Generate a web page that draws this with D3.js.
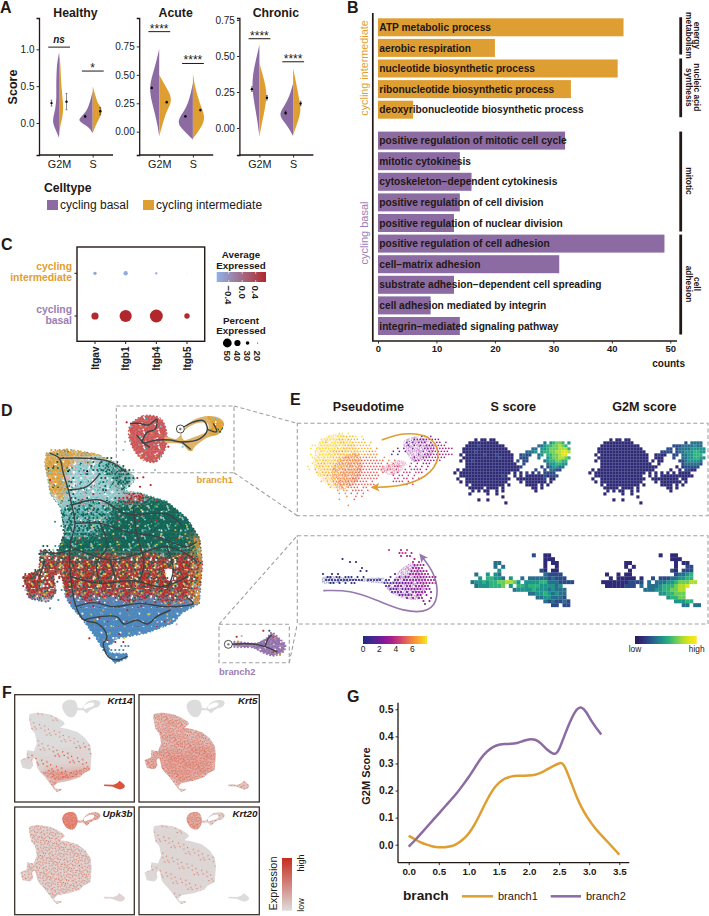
<!DOCTYPE html>
<html><head><meta charset="utf-8">
<style>html,body{margin:0;padding:0;background:#fff}svg{display:block}text{font-family:"Liberation Sans",Arial,sans-serif;fill:#231815}</style>
<script src="https://cdn.jsdelivr.net/npm/d3@7/dist/d3.min.js"></script>
</head><body><div id="chart"></div>
<script>
// ---------- shared colours ----------
const basalColor="#8C6BA3", interColor="#DF9E32", inkColor="#231815";

// ---------- panel A data ----------
const facetNames=["Healthy","Acute","Chronic"];
const phases=["G2M","S"];
const facetDomains=[[-0.434,1.425],[-0.205,1.0],[-0.1875,0.764]];
const facetTicks=[[0,0.5,1],[0,0.25,0.5,0.75],[0,0.25,0.5,0.75]];
const violinBasal=[
 [[[-0.2,0],[-0.1,3],[0,6.5],[0.1,5.5],[0.2,3.5],[0.35,2.5],[0.5,2.8],[0.7,2.5],[0.85,1.5],[0.95,0]],
  [[-0.14,0],[-0.05,4],[0.03,15],[0.08,12],[0.15,6.5],[0.25,3.5],[0.35,1.5],[0.43,0]]],
 [[[-0.04,0],[0.05,1.5],[0.15,4],[0.25,7],[0.35,9.6],[0.45,8.5],[0.55,5],[0.65,2],[0.73,0]],
  [[-0.07,0],[0,8],[0.07,15.5],[0.13,13],[0.22,6],[0.32,2.5],[0.43,0]]],
 [[[-0.06,0],[0.05,2],[0.15,4.5],[0.27,7.4],[0.38,6.5],[0.47,3.5],[0.58,0]],
  [[-0.055,0],[0.03,7],[0.09,15],[0.15,9],[0.22,3.5],[0.31,0]]]];
const violinInter=[
 [[[-0.2,0],[-0.05,1],[0.05,3],[0.18,4.5],[0.35,3.5],[0.55,2],[0.8,1.5],[0.97,0]],
  [[-0.14,0],[-0.03,3],[0.07,7],[0.18,10.5],[0.26,5],[0.36,3],[0.5,0]]],
 [[[-0.04,0],[0.05,3],[0.15,6],[0.22,10],[0.28,12.5],[0.35,10],[0.42,5],[0.5,0]],
  [[-0.06,0],[0.03,8],[0.12,12.5],[0.2,9],[0.3,5],[0.4,2],[0.51,0]]],
 [[[-0.06,0],[0.05,3],[0.15,6],[0.24,7.6],[0.33,5],[0.45,0]],
  [[-0.05,0],[0.03,4],[0.12,8.4],[0.2,6],[0.3,3.5],[0.415,0]]]];
const meanBasal=[[0.27,0.09],[0.385,0.135],[0.27,0.105]];
const seBasal=[[0.04,0.012],[0.008,0.006],[0.016,0.012]];
const meanInter=[[0.29,0.16],[0.26,0.19],[0.21,0.17]];
const seInter=[[0.11,0.05],[0.008,0.008],[0.016,0.016]];
const sigLabels=[["ns","*"],["****","****"],["****","****"]];
const sigValues=[[1.03,0.705],[0.88,0.6],[0.62,0.46]];

// ---------- panel B data ----------
const goInter=["ATP metabolic process","aerobic respiration","nucleotide biosynthetic process","ribonucleotide biosynthetic process","deoxyribonucleotide biosynthetic process"];
const goInterCounts=[42,20,41,33,6];
const goBasal=["positive regulation of mitotic cell cycle","mitotic cytokinesis","cytoskeleton\u2212dependent cytokinesis","positive regulation of cell division","positive regulation of nuclear division","positive regulation of cell adhesion","cell\u2212matrix adhesion","substrate adhesion\u2212dependent cell spreading","cell adhesion mediated by integrin","integrin\u2212mediated signaling pathway"];
const goBasalCounts=[32,14,16,14,13,49,31,13,9,14];
const countTicks=[0,10,20,30,40,50];
const goBrackets=[[["energy","metabolism"],-0.1,1.76],[["nucleic acid","synthesis"],1.9,4.8],[["mitotic"],5.45,10.35],[["cell","adhesion"],10.45,15.35]];

// ---------- panel C data ----------
const integrins=["Itgav","Itgb1","Itgb4","Itgb5"];
const dotGroups=["cycling intermediate","cycling basal"];
const pctInter=[29,33,25,20], pctBasal=[44,63,66,37];
const avgInter=[-0.62,-0.7,-0.55,-0.2], avgBasal=[0.7,0.72,0.72,0.7];
const avgTicks=[-0.4,0,0.4];
const pctLegend=[50,40,30,20];

// ---------- panel D data (coordinates are UMAP units) ----------
const umapOutline=[[140,190],[200,178],[290,193],[345,218],[395,250],[405,270],[370,302],[420,310],[500,335],[560,385],[598,445],[606,520],[597,640],[545,668],[520,698],[440,728],[350,745],[325,770],[330,790],[383,792],[380,804],[345,818],[320,790],[290,745],[250,690],[215,650],[198,622],[190,575],[180,545],[160,558],[168,605],[150,632],[135,635],[88,625],[70,560],[118,540],[122,480],[172,490],[195,425],[182,350],[152,312],[145,270],[135,220]];
// colour bands, each with a fill and a speckle mix of its cells
const umapBands=[
 {c:"#B5D8DB",m:"cpcwcgcpctwccpcgcwccpctcgcwpcctccwgpccwcgcpwccctcpgcwctcpcc",p:[[130,170],[410,170],[410,345],[130,345]]},
 {c:"#E5A642",m:"oooowoogooooccoooowoopooooogoooocooowoooooowooggoooooocooooo",p:[[130,180],[300,190],[262,208],[232,206],[205,226],[196,262],[206,290],[190,322],[150,320],[140,270],[130,220]]},
 {c:"#4E8F83",m:"gcgggcpggcgggcgtggcgpgggcggcgcggtgcgggcggcgggtgcgggcgcwgcgtg",p:[[290,205],[350,222],[405,260],[370,300],[330,285],[345,262],[305,250],[318,228]]},
 {c:"#226A5C",m:"gtgggcgggyggggcgtgggpgggcggggyggtggggcggrggggtgcggggcgwgggtg",p:[[180,360],[240,325],[320,340],[400,318],[620,320],[620,515],[560,490],[500,505],[440,484],[380,505],[320,488],[260,510],[210,495],[100,500],[170,470]]},
 {c:"#70B4B4",m:"cgcwcgtcpctgccpcgtgwccgctcgcwpgctccggpctwcgtcpcgcctgpgcwctcg",p:[[180,345],[300,320],[340,375],[290,425],[215,445],[185,420]]},
 {c:"#A85A50",m:"rgrwyrgrrgyrwgrrcrgrygwrgrrgrgypgrrwgrrygrgwrgrrgcryrgrwgryr",p:[[60,500],[100,500],[210,495],[260,510],[320,488],[380,505],[440,484],[500,505],[560,490],[620,515],[620,640],[570,625],[510,648],[450,625],[390,640],[330,620],[270,635],[190,618],[60,640]]},
 {c:"#538CBE",m:"bbbbwbbbbbrbbbbwbbbbbybbbbbbwbbbbbrbbbbbbbbbwbbbobbbbbbbwbbb",p:[[190,618],[270,635],[330,620],[390,640],[450,625],[510,648],[570,625],[620,640],[620,830],[190,830]]},
 {c:"#C9656A",m:"rrprrwrrrrcrrrgrrrrwrrprrrrrrrgrrrrwrrrrprrrrcrrrrwrrrrrgrrr",p:[[375,308],[435,308],[430,335],[380,330]]},
 {c:"#E5A642",m:"oooowoogooooccoooowoopooooogoooocooowoooooowooggoooooocooooo",p:[[578,440],[612,450],[612,650],[576,640],[592,600],[600,520]]}
];
const umapHoles=[[[338,770],[378,772],[376,788],[342,788]],[[497,538],[513,538],[518,570],[502,570]]];
const branch1Body=[[392,105],[430,78],[480,85],[498,120],[497,170],[468,215],[428,208],[398,172],[386,130]];
const branch1Arm=[[495,140],[530,146],[552,118],[580,90],[625,78],[660,85],[672,102],[655,132],[625,142],[590,165],[570,184],[545,162],[495,157]];
const branch1Tip=[[622,80],[655,86],[672,102],[656,132],[628,134],[636,105]];
const branch1Hole=[[545,132],[590,100],[624,102],[622,122],[580,142],[552,150]];
const branch2Body=[[770,760],[800,745],[815,728],[840,748],[856,765],[850,785],[820,797],[790,788],[760,773],[700,769],[700,757]];
const branch1Path=[[[390,100],[418,100],[445,105],[470,88],[465,118],[440,128],[428,158],[470,150],[510,150],[545,156],[600,146],[622,118],[610,92],[575,98],[550,112],[541,117]],[[428,158],[410,135]],[[428,158],[450,172]],[[622,118],[650,125],[640,100]],[[545,156],[572,178]]];
const branch2Path=[[[685,763],[760,762],[795,770],[832,786]],[[795,770],[805,745],[815,735]]];
const umapPaths=[
 [[150,190],[178,205],[190,250],[205,300],[215,345],[225,400],[210,470],[212,560],[228,650],[252,690],[292,700],[315,722],[320,745],[310,760],[325,800],[355,810],[382,798]],
 [[178,205],[260,205],[330,215],[385,252]],[[205,300],[260,290],[300,250]],[[215,345],[300,330],[380,372],[500,372],[545,405]],
 [[225,400],[300,400],[380,425],[470,440],[560,470],[590,455]],[[210,470],[262,490],[330,510],[420,490],[500,470],[572,500],[592,520]],
 [[212,560],[300,580],[400,572],[482,590],[565,560]],[[228,650],[280,638],[340,650],[420,640],[500,650],[580,640],[560,622]],
 [[252,690],[300,680],[350,680],[372,702],[410,690],[442,702],[470,680],[512,660]],[[400,350],[410,430],[432,520],[420,570]],
 [[300,400],[322,470],[290,520],[300,580]],[[122,485],[170,490],[212,480]],[[135,512],[118,560]],[[330,510],[345,560]],[[500,470],[520,540],[500,600]]
];
// Dominant colour of each small cell of the big UMAP: one row per line
const umapCells=[
"       oooooo",
"      oogooooooooo",
"      oooogoocoooggoogg",
"      oogoooopcoogpgcgcg",
"      ooocoooccpcgcgtgcgcg",
"       oooogpcccpgggcgtcggg",
"       ooopcccpcgcpgcgtgggg",
"       oocppgcwccpcggcggcgggr",
"       oooccgcpcccpcgcccggg",
"       oopcgwccpcpcpgccpwcg",
"       oooccgpcwcpccgpc",
"        oopcgccpcrpcwcc   rr r",
"         oocggcpgccpctcgrrrrprg g",
"         occgcgccgcpcgtcgrrrgcgtgg",
"          cgcpgtcgpcgcgtgcgpgggcgtg",
"          ggcgcgpggcgtgcgggcgyggtggg",
"          gcggtgggcggtggpgggtgggcgggg",
"          cgggcggggyggggtgggcgggggcggg",
"          ggggtggcggggggcggpgggggtggggg",
"         tggcggggygggtggggggpgcgggggtgggg",
"          gggtgggcgggggggcggggtgggcgggogg",
"          ggcgggggpgggyggggtggggcgygggggo",
"          gcggyggggcgggrggggpggggtgcgggogo",
"          gggrggggtggggygggcggggggyggtgggo",
"     gg ttgggcgggpggggggrgggtggggcgggggcgoo",
"     ggcggtgggygggrgggygggcggrggtgggpggrggo",
"    ggw cgrgggcrgggrgggyggrggggygrgcgggrgro",
"    gpw  ggrgyrgggyrgrgcggrgygggrggrgygrgro",
"     gt   rggrgrygggrgrrgygrgrgygrrgcgwrgro",
"     gg   rrgryggrgrgygrrgrgyrgrgryrgwwrrgo",
"   ggw    yrgrgrrgyrgrrgrygrgrrgyrgrwwgrro",
"rrggww    rgrryrrgrgyrgrrgyrrgrgrrgywwrgro",
"rrgrrww  rrgrgrrgryrrgrgrrgrygrrgrrgrwwrro",
"rygrrpw   rgrryrgrrgrrgyrrgrrgyrrgrgrwrrgo",
"rrrrgww   yrgrrgrrgyrrgrgyrgrrgrrbrgrrgrro",
"prrrrbw    rbrrgrybrrgrrbrgrybrrbrgrrbrrro",
" rbbb b    rbbrbrbbrbbrrbbrbbrbbrbbrbrbbro",
"  bbbbb     bbbrbbbbobbbrbbbbbrbbbbbbrbbo",
"             bbbbbbrbbbbbbbybbbbbrbbbbboo",
"             bbbbrbbbbbbbbbbbrbbbbbbbbo",
"              bbbbbbobbbbbrbbbbbbbbbb",
"               bbbbbbbbbbbbbbbbybbbb",
"               bbbbrbbbbbbbbbbbbbb  p",
"                bbbbbbbbbbbbbbbb p",
"                 bbbbbybbbbbbb",
"                  bbbbbbbb b",
"                  bb ybbr",
"                  bb  w w",
"                   bbw r r",
"                   bbwwwbb",
"                    bbbbbb",
"                     bbb"
];
const umapCellColors={o:"#E29C2C",g:"#0E6454",c:"#7EC8CF",t:"#2B9E90",r:"#BE2329",y:"#D8CB3C",p:"#DBA6B4",b:"#4A86BE",w:"#FFFFFF",d:"#C84F52",u:"#8F6BA8"};
// scattered cells around the bodies: [x, y, colour key]
const umapStrays=[[380,275,"g"],[430,262,"r"],[452,285,"r"],[420,290,"r"],[400,240,"c"],[465,240,"c"],[375,155,"c"],[380,97,"r"],[370,180,"c"],[505,170,"r"],[530,703,"p"],[505,697,"p"],[268,745,"r"],[372,745,"y"],[385,768,"b"],[150,655,"b"],[175,630,"b"],[165,395,"t"],[150,270,"r"],
 [178,560,"r"],[185,600,"b"],[172,575,"g"],[165,590,"p"],
 [710,740,"r"],[725,738,"p"],[790,722,"r"],[808,722,"g"],[840,795,"o"],[715,755,"o"],[455,130,"o"],[420,140,"c"],[548,170,"c"],[575,180,"o"],[660,125,"g"]];
const branchMixD="ddddwddddcddddtdddddwddddoddddddwdddddddddcdddwddddddddodddwd";
const branchMixU="uuuuwuuuuuuuuuuuuwuuuuruuuuuuuuuuuwuuuuuuuuuuouuuuuwuuuuuuuu";
const branchMixO="oooowoogooooccoooowoopooooogoooocooowoooooowooggoooooocooooo";

// ---------- panel E data ----------
const plasmaStops=["#26277F","#3B2A8C","#5C1F96","#861A98","#A81E8C","#C93A78","#E5605A","#F48A3C","#F8B52E","#F5E626"];
const viridisStops=["#2A1B5C","#2F2A76","#2C4A88","#26708E","#1F948C","#2EB37C","#6CCD5A","#B0DD2F","#E6E419","#FDE725"];
const pseudoTicks=[0,2,4,6];
const pseudoTop=[
"            99 9",
"        9  9988889 9                   23 3",
"      9 99998898888 8                233333333",
"     998 999889988888 8           2 2 333 3 33 4",
"   99 99999999888888888            2 2 3 3343444",
"  9 9999999898888888888 7      1 2  2   3344444444",
"    9 9999888788888888778     1 2 2     3 3444444",
"  9  99999888888887877777    1 1      3 3344444444",
"   9 9 999888877787776777  7         3  33444444",
"    99889988877777766666676 7 6      34 344444",
"   9 8889888777777766666666 6 6     5 4 444",
" 9  98898888887777766666666 6 65   4 4 4 4",
"  9 8 988878877777666666666 66 5  5 5444 4",
"    8 8888887777766666666 6  6 5 555 554",
"     9 8788887777766666666    5 55 5 5",
"       8 8877777666666666     55 55 5 5",
"      8 8 777776766666 6      5555 5",
"        8 8 777666666666         55 5",
"         8 8 7 7666 66 6",
"           7 77 6666 6",
"            7 7 6 6 6",
"              7  6 6",
"            7    6",
"                 ",
"               7"
];
const pseudoBottom=[
"                       5   4 5",
"                          455 4",
"                           4 44",
"       0                       4",
"          0 0                  4 4",
"                               3443",
"              1                3434",
"             0 0              344434",
" 0  0 0                  1    3434444",
"  00 00 000 0 0        1  2 23 34343444",
"  0000000000000 11111 11 22 22333343444",
"   00 0 0 00         1111222233 3344344",
"                      12 222 33 33443",
"                       222 2223333 33",
"                        2222 2 33333 3",
"                          22223 33 3",
"                             3 3 33  3",
"                                  3 3",
"                                   3"
];
// denser areas of the pseudotime scatter: [shape, colour level]
const pseudoFills=[
 [[[95,150],[150,132],[195,165],[215,215],[205,270],[150,300],[95,270],[70,220]],8],
 [[[140,215],[200,190],[218,225],[200,275],[150,298],[125,260]],6],
 [[[340,155],[385,140],[432,165],[425,195],[370,215],[350,190]],3],
 [[[270,240],[330,210],[350,222],[310,255]],5],
 [[[330,540],[370,520],[410,575],[390,625],[340,625],[290,595],[310,570]],3],
 [[[98,562],[200,566],[290,566],[290,578],[200,574],[98,578]],0]
];
const sScoreTop=[
"       1 11 11",
"     1111111111               3 45665 4",
"    1111211111111           3345566765",
"   111111111111111        33 4456667775",
"   1111211111111111     3334 4556677887",
"  1 1111112111211111  2322  34 5566788",
"   11111111111121111  222   3  45667765",
"  1 1121111111111111 2 22     34556655",
"    11111111111111111  2       3445544",
"    1111111111111111112      2 234433",
" 1 1111111111111111111     2  2 3322",
"1 11111111111111111 1 1 2 1 2 2222",
"  1111111111111121  1 1 11111121222",
" 1  111111111111111  1111111112 11",
"  1 11111111111111    1 1111111 1",
"    1 11111111111 1     1111 1 1",
"     11111 1111 1         11 1",
"      1 1 11  1 1          1",
"     1     1  1",
"                1",
"        1  1",
"                 1"
];
const g2mScoreTop=[
"       1 11 11",
"     1111111111                 2 3333",
"    1111111111111           2223333433",
"   111111111111111        22 2333344444",
"   1111111111111111     2222 2334445544",
"  1 1111111111111111  1211  22 3344555",
"   11111111111111111  111   2  33445544",
"  1 1111111111111111 1 11     22344443",
"    11111111111111111  1       2333332",
"    1111111111111111111      1 122222",
" 1 1111111111111111111     1  1 2211",
"1 11111111111111111 1 1 1 1 1 1111",
"  1111111111111111  1 1 11111111111",
" 1  111111111111111  111111111 11",
"  1 11111111111111    1 1111111 1",
"    1 11111111111 1     1111 1 1",
"     11111 1111 1         11 1",
"      1 1 11  1 1          1",
"     1     1  1",
"                1",
"        1  1",
"                 1"
];
const sScoreBottom=[
"                 2  11",
"                    111",
"       33           1 11",
"       3 3          1  1",
"        4          21 11",
"  3  4 43           32222",
"   4 55443 4  3 3333323222",
" 3445455667764 4444553332222",
"  34445556 4 554555444434",
"            34444544434333",
"                3344543433",
"                  33443332",
"                    3232232",
"                      22 22"
];
const g2mScoreBottom=[
"                1  11",
"                   111",
"       11           1 11",
"       1 1          1  22",
"        1          21 222",
"  1  1 11           23345",
"   1 11111 1  2 222334455",
" 11111112222 3 33344566677",
"  11111222 3 33345556778",
"            33344556677",
"                4455666",
"                  45566",
"                    44455",
"                      33 33"
];
const arrowTop=[[275,150],[340,127],[420,135],[453,185],[430,250],[345,290],[250,292]];
const arrowBottom=[[100,602],[180,600],[260,630],[340,665],[420,668],[447,620],[435,550],[393,497]];

// ---------- panel F data ----------
const markerGenes=["Krt14","Krt5","Upk3b","Krt20"];
const speckleTile=[[3,2],[11,1],[18,3],[22,8],[7,6],[14,7],[1,10],[19,12],[10,12],[5,15],[15,16],[22,17],[2,20],[9,20],[17,21],[12,23],
[6,1],[15,3],[21,1],[2,6],[10,4],[18,7],[4,10],[13,10],[23,12],[8,9],[16,13],[0,14],[11,16],[19,16],[3,18],[7,19],[14,20],[21,21],[5,23],[18,23],
[8,2],[13,5],[20,5],[1,3],[5,8],[11,8],[16,9],[21,10],[2,13],[7,12],[12,14],[18,14],[23,15],[5,17],[9,17],[16,18],[20,19],[1,22],[11,21],[15,23],[23,23],[8,22],[3,15],[13,18]];
const speckleLevels={low:8,mid:20,high:40,full:60};
const lowerBand=[[215,655],[300,650],[400,655],[500,640],[585,620],[592,640],[520,690],[440,712],[340,725],[290,705],[250,680]];
const lowerHalf=[[70,520],[250,500],[420,470],[606,440],[606,640],[520,698],[350,745],[250,690],[198,622],[88,625]];
const rightHalf=[[300,340],[520,350],[606,480],[606,640],[450,700],[250,640],[215,500]];
const loopPart=[[290,730],[350,740],[325,770],[332,788],[383,790],[380,804],[345,818],[318,790]];
// each layer: shape, speckle level, soft wash strength
const krt14Layers=[[umapOutline,"low",0],[lowerHalf,"low",.05],[lowerBand,"full",.5],[loopPart,"full",.3]];
const krt5Layers=[[umapOutline,"full",.22],[lowerHalf,"full",.16],[branch2Body,"high",.15]];
const upk3bLayers=[[umapOutline,"high",.06],[branch1Body,"full",.55],[branch1Arm,"high",.3],[branch2Body,"low",.05]];
const krt20Layers=[[umapOutline,"low",.04],[branch1Body,"full",.3],[branch1Arm,"mid",.1]];

// ---------- panel G data ----------
const branch1Curve=[[0,.033],[.1,.02],[.2,.008],[.3,0],[.4,-.007],[.5,-.01],[.6,-.01],[.7,-.007],[.8,.002],[.9,.018],[1,.04],[1.1,.075],[1.2,.12],[1.3,.165],[1.4,.205],[1.5,.23],[1.6,.245],[1.7,.252],[1.8,.255],[2,.255],[2.1,.257],[2.2,.265],[2.3,.278],[2.4,.29],[2.5,.302],[2.55,.302],[2.6,.288],[2.7,.23],[2.8,.17],[2.9,.125],[3,.09],[3.1,.06],[3.2,.035],[3.3,.012],[3.4,-.012],[3.5,-.037]];
const branch2Curve=[[0,-.007],[.1,.015],[.2,.04],[.3,.065],[.4,.09],[.5,.115],[.6,.14],[.7,.165],[.8,.19],[.9,.22],[1,.25],[1.1,.285],[1.2,.32],[1.3,.345],[1.4,.362],[1.5,.37],[1.6,.372],[1.7,.372],[1.8,.375],[1.9,.383],[2,.39],[2.1,.39],[2.2,.375],[2.3,.35],[2.4,.335],[2.45,.335],[2.5,.35],[2.6,.41],[2.7,.465],[2.8,.505],[2.87,.51],[2.95,.492],[3.05,.45],[3.2,.407]];
const gXTicks=[0,.5,1,1.5,2,2.5,3,3.5], gYTicks=[0,.1,.2,.3,.4,.5];

// ---------- drawing ----------
const svg=d3.select("#chart").append("svg").attr("width",709).attr("height",916).attr("viewBox","0 0 709 916");
const defs=svg.append("defs");
function txt(g,x,y,s,o={}){
  const t=g.append("text").attr("x",x).attr("y",y).text(s)
    .attr("font-size",o.size||9).attr("font-weight",o.bold?"bold":"normal").attr("text-anchor",o.anchor||"start");
  if(o.fill)t.style("fill",o.fill);
  if(o.italic)t.attr("font-style","italic");
  if(o.rot!=null)t.attr("transform",`rotate(${o.rot} ${x} ${y})`);
  return t;
}
function styleAxis(g,sw){
  g.selectAll("path.domain").attr("stroke",inkColor).attr("stroke-width",sw||1.3);
  g.selectAll(".tick line").attr("stroke",inkColor).attr("stroke-width",.9);
}
[["A",0,13],["B",347,13],["C",1,249.5],["D",1,415.5],["E",290,404.5],["F",2,697.5],["G",347,702]].forEach(d=>txt(svg,d[1],d[2],d[0],{size:16,bold:true}));
defs.append("filter").attr("id","soft").attr("x","-20%").attr("y","-20%").attr("width","140%").attr("height","140%").append("feGaussianBlur").attr("stdDeviation",5);
defs.append("filter").attr("id","softF").attr("x","-30%").attr("y","-30%").attr("width","160%").attr("height","160%").append("feGaussianBlur").attr("stdDeviation",4);

// --- A
const gA=svg.append("g");
const facetX=d3.scaleBand().domain(facetNames).range([39,339]).paddingInner(0);
const phaseX=d3.scalePoint().domain(phases).range([20,53.7]);
const densityW=d3.scaleLinear().domain([0,15]).range([0,15]);
facetNames.forEach((name,fi)=>{
  const ox=facetX(name)+fi*0.2;
  const g=gA.append("g").attr("transform",`translate(${ox},0)`);
  const y=d3.scaleLinear().domain(facetDomains[fi]).range([155,18]);
  const axL=g.append("g").call(d3.axisLeft(y).tickValues(facetTicks[fi]).tickSize(2.5).tickPadding(2).tickFormat(d=>fi==0?d3.format(".1f")(d):d3.format(".2f")(d)));
  styleAxis(axL,1.3);axL.selectAll("text").attr("font-size",10);
  const xAx=g.append("g").attr("transform","translate(0,155)").call(d3.axisBottom(phaseX).tickSize(2.5).tickPadding(3));
  xAx.select("path.domain").attr("d","M0,0H74");styleAxis(xAx,1.3);xAx.selectAll("text").attr("font-size",10.8);
  txt(g,36.5,17,name,{size:12.3,bold:true,anchor:"middle"});
  phases.forEach((ph,pi)=>{
    const cx=phaseX(ph);
    const area=sign=>d3.area().curve(d3.curveBasis).y(d=>y(d[0])).x0(cx).x1(d=>cx+sign*densityW(d[1]));
    g.append("path").attr("d",area(-1)(violinBasal[fi][pi])).attr("fill",basalColor);
    g.append("path").attr("d",area(1)(violinInter[fi][pi])).attr("fill",interColor);
    [[meanBasal,seBasal,-7.5],[meanInter,seInter,7.5]].forEach(([m,s,dx])=>{
      const v=m[fi][pi],e=s[fi][pi];
      g.append("line").attr("x1",cx+dx).attr("x2",cx+dx).attr("y1",y(v-e)).attr("y2",y(v+e)).attr("stroke",inkColor).attr("stroke-width",.5);
      [-1,1].forEach(k=>g.append("line").attr("x1",cx+dx-.9).attr("x2",cx+dx+.9).attr("y1",y(v+k*e)).attr("y2",y(v+k*e)).attr("stroke",inkColor).attr("stroke-width",.5));
      g.append("circle").attr("cx",cx+dx).attr("cy",y(v)).attr("r",1.2).attr("fill","#000");
    });
    const sv=sigValues[fi][pi];
    g.append("line").attr("x1",cx-10.8).attr("x2",cx+11).attr("y1",y(sv)).attr("y2",y(sv)).attr("stroke",inkColor).attr("stroke-width",1);
    const lab=sigLabels[fi][pi];
    txt(g,cx,y(sv)+(lab=="ns"?-4.3:1),lab,{size:lab=="ns"?10:12,anchor:"middle",bold:lab=="ns",italic:lab=="ns"});
  });
});
txt(gA,44,191.5,"Celltype",{size:12.2,bold:true});
gA.append("rect").attr("x",47).attr("y",200).attr("width",11).attr("height",10).attr("fill",basalColor);
gA.append("rect").attr("x",143).attr("y",200).attr("width",11).attr("height",10).attr("fill",interColor);
txt(gA,60,208.5,"cycling basal",{size:12});
txt(gA,156,208.5,"cycling intermediate",{size:12});
txt(gA,16.5,87,"Score",{size:12.5,bold:true,anchor:"middle",rot:-90});

// --- B
const gB=svg.append("g");
const bX=d3.scaleLinear().domain([0,50]).range([378,670.3]);
const rowY=d3.scaleLinear().domain([0,15]).range([18.3,18.3+15*20.6]);
const goRows=[...goInter.map((n,i)=>({n,v:goInterCounts[i],c:interColor,r:i})),...goBasal.map((n,i)=>({n,v:goBasalCounts[i],c:basalColor,r:i+5.5}))];
gB.selectAll("rect.bar").data(goRows).join("rect").attr("class","bar").attr("x",bX(0)).attr("y",d=>rowY(d.r)).attr("width",d=>bX(d.v)-bX(0)).attr("height",18).attr("fill",d=>d.c);
goRows.forEach(d=>txt(gB,379.3,rowY(d.r)+12.6,d.n,{size:10.2,bold:true}));
gB.append("line").attr("x1",372.8).attr("x2",372.8).attr("y1",13).attr("y2",341).attr("stroke",inkColor).attr("stroke-width",1.7);
const bAx=gB.append("g").attr("transform","translate(0,341)").call(d3.axisBottom(bX).tickValues(countTicks).tickSize(2.5).tickPadding(2));
bAx.select("path.domain").attr("d","M372,0H677");styleAxis(bAx,1.4);bAx.selectAll("text").attr("font-size",9.5).attr("font-weight","bold");
txt(gB,685,367,"counts",{size:10,bold:true,anchor:"end"});
txt(gB,368,68,"cycling intermediate",{size:10.8,anchor:"middle",rot:-90,fill:interColor});
txt(gB,368,233,"cycling basal",{size:11,anchor:"middle",rot:-90,fill:"#9B7DB4"});
goBrackets.forEach(([lines,a,b])=>{
  gB.append("line").attr("x1",680.7).attr("x2",680.7).attr("y1",rowY(a)+1).attr("y2",rowY(b)).attr("stroke",inkColor).attr("stroke-width",2.8);
  const mid=(rowY(a)+rowY(b))/2;
  lines.forEach((l,i)=>{
    const xp=lines.length==2&&i==0?694:686;
    txt(gB,xp,mid,l,{size:8.4,bold:true,anchor:"middle",rot:90});
  });
});

// --- C
const gC=svg.append("g");
const cX=d3.scalePoint().domain(integrins).range([95,187]);
const cY=d3.scalePoint().domain(dotGroups).range([273.3,316]);
const cR=d3.scaleLinear().domain([20,50]).range([0.5,4.4]);
const cCol=d3.scaleLinear().domain([-0.76,0.72]).range(["#8FB2E8","#B2272B"]);
gC.append("rect").attr("x",77).attr("y",247).attr("width",127.7).attr("height",94.3).attr("fill","#fff").attr("stroke",inkColor).attr("stroke-width",1.4);
integrins.forEach((n,i)=>{
  gC.append("circle").attr("cx",cX(n)).attr("cy",cY(dotGroups[0])).attr("r",cR(pctInter[i])).attr("fill",i==3?"#DDE3F0":cCol(avgInter[i]));
  gC.append("circle").attr("cx",cX(n)).attr("cy",cY(dotGroups[1])).attr("r",cR(pctBasal[i])).attr("fill",cCol(avgBasal[i]));
  gC.append("line").attr("x1",cX(n)).attr("x2",cX(n)).attr("y1",341.3).attr("y2",344).attr("stroke",inkColor);
  txt(gC,cX(n)+3.5,346.5,n,{size:10,bold:true,anchor:"end",rot:-90});
});
dotGroups.forEach(g=>gC.append("line").attr("x1",74.5).attr("x2",77).attr("y1",cY(g)).attr("y2",cY(g)).attr("stroke",inkColor));
txt(gC,72,270,"cycling",{size:10.4,bold:true,anchor:"end",fill:interColor});
txt(gC,72,281,"intermediate",{size:10.4,bold:true,anchor:"end",fill:interColor});
txt(gC,72,313,"cycling",{size:10.4,bold:true,anchor:"end",fill:"#9B7DB4"});
txt(gC,72,323.5,"basal",{size:10.4,bold:true,anchor:"end",fill:"#9B7DB4"});
[["Average",258],["Expressed",268.7],["Percent",323.5],["Expressed",334.3]].forEach(d=>txt(gC,241,d[1],d[0],{size:9.8,bold:true,anchor:"middle"}));
const gradC=defs.append("linearGradient").attr("id","gradC");
gradC.selectAll("stop").data([0,1]).join("stop").attr("offset",d=>d).attr("stop-color",d=>d?"#B2272B":"#8FB2E8");
const avgX=d3.scaleLinear().domain([-0.4,0.4]).range([228.7,255.7]);
gC.append("rect").attr("x",216.7).attr("y",272).attr("width",49.3).attr("height",10).attr("fill","url(#gradC)");
avgTicks.forEach(t=>{
  gC.append("line").attr("x1",avgX(t)).attr("x2",avgX(t)).attr("y1",272).attr("y2",274).attr("stroke","#fff").attr("stroke-width",.6);
  gC.append("line").attr("x1",avgX(t)).attr("x2",avgX(t)).attr("y1",280).attr("y2",282).attr("stroke","#fff").attr("stroke-width",.6);
  txt(gC,avgX(t)-3.3,285.5,d3.format(".1f")(t).replace("-","\u2212"),{size:9.6,bold:true,rot:90});
});
const pctX=d3.scalePoint().domain(pctLegend).range([227.3,257.7]);
pctLegend.forEach(p=>{
  gC.append("circle").attr("cx",pctX(p)).attr("cy",343).attr("r",cR(p)).attr("fill","#000");
  txt(gC,pctX(p)-3.3,350.5,p,{size:9.6,bold:true,rot:90});
});

// --- D
const gD=svg.append("g");
const dx=d3.scaleLinear().domain([0,900]).range([0,300]);
const dy=d3.scaleLinear().domain([0,870]).range([390,680]);
const poly=(xs,ys)=>d3.line().x(d=>xs(d[0])).y(d=>ys(d[1])).curve(d3.curveLinearClosed);
const smooth=(xs,ys)=>d3.line().x(d=>xs(d[0])).y(d=>ys(d[1])).curve(d3.curveCatmullRomClosed);
const trail=(xs,ys)=>d3.line().x(d=>xs(d[0])).y(d=>ys(d[1])).curve(d3.curveCatmullRom);
function mixPattern(id,mix,base,size,dot){
  const p=defs.append("pattern").attr("id",id).attr("patternUnits","userSpaceOnUse").attr("width",size).attr("height",size);
  if(base)p.append("rect").attr("width",size).attr("height",size).attr("fill",base);
  speckleTile.forEach((d,i)=>{
    p.append("rect").attr("x",d[0]*size/24).attr("y",d[1]*size/24).attr("width",dot).attr("height",dot).attr("fill",umapCellColors[mix[i]]);
  });
}
defs.append("clipPath").attr("id","clipUmap").append("path").attr("d",poly(dx,dy)(umapOutline));
const edgeGrad=defs.append("linearGradient").attr("id","edgeGrad").attr("x1",0).attr("x2",0).attr("y1",0).attr("y2",1);
[[0,"#E29C2C"],[.2,"#6FB3B0"],[.3,"#0E6454"],[.58,"#BE2329"],[.68,"#4A86BE"],[1,"#4A86BE"]].forEach(s=>edgeGrad.append("stop").attr("offset",s[0]).attr("stop-color",s[1]));
gD.append("path").attr("d",poly(dx,dy)(umapOutline)).attr("fill","none").attr("stroke","url(#edgeGrad)").attr("stroke-width",2.2).attr("stroke-linecap","round").attr("stroke-dasharray","0.1 4.1 0.1 2.6");
const gBands=gD.append("g").attr("clip-path","url(#clipUmap)");
const gBlur=gBands.append("g").attr("filter","url(#soft)");
const gTile=gBands.append("g");
umapBands.forEach((b,i)=>{
  mixPattern("band"+i,b.m,null,19,1.8);
  gBlur.append("path").attr("d",poly(dx,dy)(b.p)).attr("fill",b.c);
});
umapBands.forEach((b,i)=>gTile.append("path").attr("d",poly(dx,dy)(b.p)).attr("fill",`url(#band${i})`));
umapHoles.forEach(h=>gBands.append("path").attr("d",smooth(dx,dy)(h)).attr("fill","#fff"));
umapCells.forEach((row,i)=>{
  [...row].forEach((ch,j)=>{
    if(ch==" ")return;
    const sx=70+12*j+(i%2?6:0), sy=180+12*i;
    gD.append("rect").attr("x",dx(sx)-1).attr("y",dy(sy)-1).attr("width",2).attr("height",2).attr("rx",.7).attr("fill",umapCellColors[ch]);
  });
});
mixPattern("mixD",branchMixD,"#D4686A",15,1.5);
mixPattern("mixU",branchMixU,"#A385B8",15,1.5);
mixPattern("mixO",branchMixO,"#E4A945",15,1.5);
const fuzzy=(s,stroke)=>gD.append("path").attr("d",smooth(dx,dy)(s)).attr("fill","none").attr("stroke",stroke).attr("stroke-width",2).attr("stroke-linecap","round").attr("stroke-dasharray","0.1 3.3");
fuzzy(branch1Body,"#CE5D5E");fuzzy(branch2Body,"#9A78B0");
gD.append("path").attr("d",smooth(dx,dy)(branch1Body)).attr("fill","url(#mixD)");
gD.append("path").attr("d",smooth(dx,dy)(branch1Arm)).attr("fill","#DFB36A");
gD.append("path").attr("d",smooth(dx,dy)(branch1Hole)).attr("fill","#fff");
gD.append("path").attr("d",smooth(dx,dy)(branch1Tip)).attr("fill","url(#mixO)");
gD.append("path").attr("d",poly(dx,dy)(branch2Body)).attr("fill","url(#mixU)");
umapStrays.forEach(d=>gD.append("rect").attr("x",dx(d[0])-1).attr("y",dy(d[1])-1).attr("width",2).attr("height",2).attr("rx",.7).attr("fill",umapCellColors[d[2]]));
[...umapPaths,...branch1Path,...branch2Path].forEach(p=>gD.append("path").attr("d",trail(dx,dy)(p)).attr("fill","none").attr("stroke","#3A4344").attr("stroke-width",1.4).attr("stroke-linejoin","round"));
[[541,117],[685,763]].forEach(c=>{
  gD.append("circle").attr("cx",dx(c[0])).attr("cy",dy(c[1])).attr("r",4).attr("fill","#fff").attr("stroke","#222").attr("stroke-width",.8);
  gD.append("circle").attr("cx",dx(c[0])).attr("cy",dy(c[1])).attr("r",1.2).attr("fill","#777");
});
const dash=(g,s)=>g.attr("fill","none").attr("stroke","#A0A0A0").attr("stroke-width",s||1.1).attr("stroke-dasharray","4 2.6");
[[116.3,406,234,472.7],[219,624.3,289.3,662.7],[297.3,423.3,708,515.7],[297.3,535.7,708,624]].forEach(b=>dash(gD.append("rect").attr("x",b[0]).attr("y",b[1]).attr("width",b[2]-b[0]).attr("height",b[3]-b[1])));
[[234,406,297.3,423.3],[234,472.7,297.3,515.7],[219,624.3,297.3,535.7],[289.3,662.7,297.3,624]].forEach(l=>dash(gD.append("line").attr("x1",l[0]).attr("y1",l[1]).attr("x2",l[2]).attr("y2",l[3])));
txt(gD,196.5,483,"branch1",{size:9.4,bold:true,fill:interColor});
txt(gD,219,674.5,"branch2",{size:9.4,bold:true,fill:"#9B7DB4"});

// --- E
const gE=svg.append("g");
const ex=d3.scaleLinear().domain([0,1257]).range([290,709]);
const ey=d3.scaleLinear().domain([0,840]).range([390,670]);
[["Pseudotime",235],["S score",670],["G2M score",1063]].forEach(d=>txt(gE,ex(d[1]),411,d[0],{size:12.6,bold:true,anchor:"middle"}));
function dots(map,x0,y0,stops,r){
  map.forEach((row,i)=>[...row].forEach((ch,j)=>{
    if(ch==" ")return;
    gE.append("circle").attr("cx",ex(x0+9*j+(i%2?4.5:0))).attr("cy",ey(y0+9*i)).attr("r",r).attr("fill",stops[+ch]);
  }));
}
function cells(map,x0,y0,p,stops){
  map.forEach((row,i)=>[...row].forEach((ch,j)=>{
    if(ch==" ")return;
    gE.append("rect").attr("x",ex(x0+p*j)).attr("y",ey(y0+p*i)).attr("width",p/3+.15).attr("height",p/3+.15).attr("fill",stops[+ch]);
  }));
}
pseudoFills.forEach((f,i)=>{
  const id="pf"+i, s=11;
  const p=defs.append("pattern").attr("id",id).attr("patternUnits","userSpaceOnUse").attr("width",s).attr("height",s).attr("patternTransform","rotate(27)");
  speckleTile.slice(0,38).forEach(d=>p.append("rect").attr("x",d[0]*s/24).attr("y",d[1]*s/24).attr("width",.9).attr("height",.9).attr("fill",plasmaStops[f[1]]));
  gE.append("path").attr("d",smooth(ex,ey)(f[0])).attr("fill",`url(#${id})`);
});
dots(pseudoTop,40,130,plasmaStops,.85);
dots(pseudoBottom,90,480,plasmaStops,1.1);
cells(sScoreTop,490,145,9,viridisStops);
cells(g2mScoreTop,895,145,9,viridisStops);
cells(sScoreBottom,530,490,11.5,viridisStops);
cells(g2mScoreBottom,922,490,11.5,viridisStops);
[[arrowTop,interColor,"arrO"],[arrowBottom,"#9579AE","arrP"]].forEach(([pts,c,id])=>{
  const m=defs.append("marker").attr("id",id).attr("viewBox","0 0 10 10").attr("refX",7).attr("refY",5).attr("markerWidth",5.5).attr("markerHeight",5.5).attr("orient","auto");
  m.append("path").attr("d","M0,0L10,5L0,10L2.5,5Z").attr("fill",c);
  gE.append("path").attr("d",d3.line().x(d=>ex(d[0])).y(d=>ey(d[1])).curve(d3.curveBasis)(pts)).attr("fill","none").attr("stroke",c).attr("stroke-width",1.6).attr("marker-end",`url(#${id})`);
});
const barGrad=(id,stops)=>{
  const g=defs.append("linearGradient").attr("id",id);
  stops.forEach((c,i)=>g.append("stop").attr("offset",i/(stops.length-1)).attr("stop-color",c));
};
barGrad("gradP",plasmaStops);barGrad("gradV",viridisStops);
const pseudoX=d3.scaleLinear().domain([0,6]).range([363,412.3]);
gE.append("rect").attr("x",363).attr("y",636).attr("width",64).attr("height",8).attr("fill","url(#gradP)");
pseudoTicks.forEach(t=>txt(gE,pseudoX(t),652,t,{size:8.4,anchor:"middle"}));
gE.append("rect").attr("x",635).attr("y",636).attr("width",61.7).attr("height",8).attr("fill","url(#gradV)");
txt(gE,635,652,"low",{size:8.4,anchor:"middle"});
txt(gE,696.7,652,"high",{size:8.4,anchor:"middle"});

// --- F
const gF=svg.append("g");
Object.entries(speckleLevels).forEach(([k,n])=>{
  const s=16;
  const p=defs.append("pattern").attr("id","sp-"+k).attr("patternUnits","userSpaceOnUse").attr("width",s).attr("height",s).attr("patternTransform","rotate(23)");
  speckleTile.slice(0,n).forEach(d=>p.append("rect").attr("x",d[0]*s/24).attr("y",d[1]*s/24).attr("width",1.05).attr("height",1.05).attr("fill","#DE4A30").attr("opacity",.85));
});
const panelsF=[[14.7,694.7,119.6,107.3,krt14Layers],[139,694.7,120.3,107.3,krt5Layers],[14.7,807,119.6,107.7,upk3bLayers],[139,807,120.3,107.7,krt20Layers]];
panelsF.forEach((p,i)=>{
  const g=gF.append("g").attr("transform",`translate(${p[0]},${p[1]})`);
  const fx=d3.scaleLinear().domain([0,900]).range([-3.9,116.1]);
  const fy=d3.scaleLinear().domain([0,870]).range([-4.4,103.8]);
  const cid="clipF"+i;
  defs.append("clipPath").attr("id",cid).append("path").attr("d",poly(fx,fy)(umapOutline));
  g.append("path").attr("d",poly(fx,fy)(umapOutline)).attr("fill","#DDDCDC");
  g.append("path").attr("d",smooth(fx,fy)(branch1Body)).attr("fill","#DDDCDC");
  g.append("path").attr("d",smooth(fx,fy)(branch1Arm)).attr("fill","#DDDCDC");
  g.append("path").attr("d",poly(fx,fy)(branch2Body)).attr("fill",i==0?"#D9543A":"#DDDCDC");
  p[4].forEach(([shape,lvl,tint])=>{
    const isMain=shape!==branch1Body&&shape!==branch1Arm&&shape!==branch2Body;
    const dd=isMain?poly(fx,fy)(shape):smooth(fx,fy)(shape);
    const holder=isMain?g.append("g").attr("clip-path",`url(#${cid})`):g;
    if(tint)holder.append("path").attr("d",dd).attr("fill","#E8553C").attr("opacity",tint).attr("filter",isMain?"url(#softF)":null);
    if(!(isMain&&shape===lowerHalf&&i==1))holder.append("path").attr("d",dd).attr("fill",`url(#sp-${lvl})`);
  });
  g.append("path").attr("d",smooth(fx,fy)(branch1Hole)).attr("fill","#fff");
  g.append("path").attr("d",smooth(fx,fy)(umapHoles[0])).attr("fill","#fff");
  g.append("rect").attr("width",p[2]).attr("height",p[3]).attr("fill","none").attr("stroke","#3A312D").attr("stroke-width",1.3);
  txt(g,p[2]-1.8,i<2?9.5:10,markerGenes[i],{size:9.8,bold:true,italic:true,anchor:"end"});
});
const gradF=defs.append("linearGradient").attr("id","gradF").attr("x1",0).attr("x2",0).attr("y1",1).attr("y2",0);
gradF.selectAll("stop").data([0,1]).join("stop").attr("offset",d=>d).attr("stop-color",d=>d?"#C62B1E":"#DDDCDC");
gF.append("rect").attr("x",282).attr("y",858).attr("width",10).attr("height",52.7).attr("fill","url(#gradF)");
txt(gF,277,883.5,"Expression",{size:10.9,anchor:"middle",rot:-90});
txt(gF,304,863,"high",{size:9,anchor:"middle",rot:-90});
txt(gF,304,905,"low",{size:9,anchor:"middle",rot:-90});

// --- G
const gG=svg.append("g");
const gx=d3.scaleLinear().domain([0,3.5]).range([408.7,619.3]);
const gy=d3.scaleLinear().domain([0,.5]).range([844.7,709.3]);
const gyAx=gG.append("g").attr("transform","translate(398,0)").call(d3.axisLeft(gy).tickValues(gYTicks).tickSize(2.5).tickPadding(2).tickFormat(d3.format(".1f")));
gyAx.select("path.domain").attr("d","M0,702.7V862.7");styleAxis(gyAx,1.3);gyAx.selectAll("text").attr("font-size",10.4).attr("font-weight","bold");
const gxAx=gG.append("g").attr("transform","translate(0,862.7)").call(d3.axisBottom(gx).tickValues(gXTicks).tickSize(2.5).tickPadding(3).tickFormat(d3.format(".1f")));
gxAx.select("path.domain").attr("d","M398,0H629.3");styleAxis(gxAx,1.3);gxAx.selectAll("text").attr("font-size",9.8).attr("font-weight","bold");
txt(gG,370,776,"G2M Score",{size:11,bold:true,anchor:"middle",rot:-90});
const gLine=d3.line().x(d=>gx(d[0])).y(d=>gy(d[1])).curve(d3.curveBasis);
gG.append("path").attr("d",gLine(branch1Curve)).attr("fill","none").attr("stroke",interColor).attr("stroke-width",2.5);
gG.append("path").attr("d",gLine(branch2Curve)).attr("fill","none").attr("stroke",basalColor).attr("stroke-width",2.5);
txt(gG,403,900,"branch",{size:13.7,bold:true});
[[462,493,498,"branch1",interColor],[550.7,581,586,"branch2",basalColor]].forEach(d=>{
  gG.append("line").attr("x1",d[0]).attr("x2",d[1]).attr("y1",896.3).attr("y2",896.3).attr("stroke",d[4]).attr("stroke-width",2.5);
  txt(gG,d[2],900,d[3],{size:11});
});
</script></body></html>
